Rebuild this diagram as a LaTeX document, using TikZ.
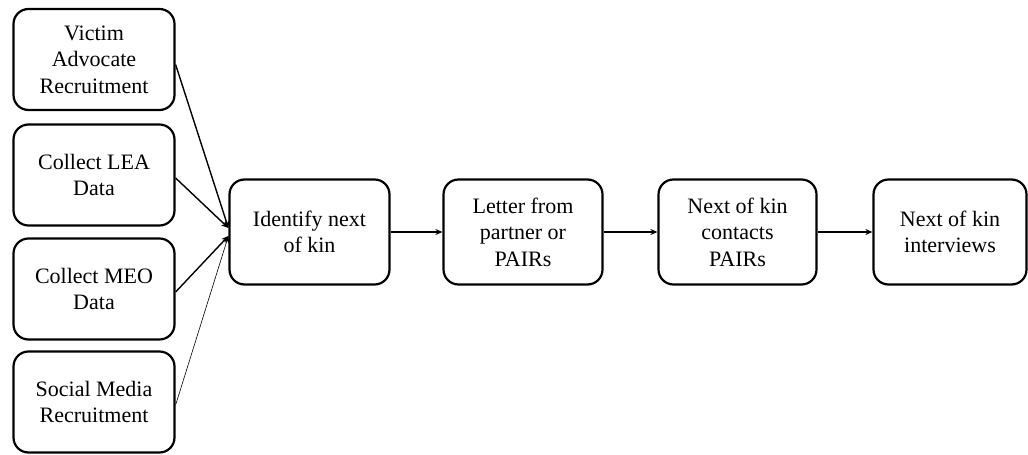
\documentclass[tikz,border=0pt]{standalone}
\usepackage{fontspec}
\setmainfont{Liberation Serif}
\usetikzlibrary{arrows.meta}
\begin{document}
\begin{tikzpicture}[x=1pt,y=1pt,
  stepbox/.style={draw, line width=2.2pt, rounded corners=15pt, align=center,
    font=\fontsize{22}{26.5}\selectfont, inner sep=2pt},
  src/.style={stepbox, minimum width=161pt, minimum height=101pt},
  flow/.style={stepbox, minimum height=105pt},
  link/.style={line width=1.4pt, -{Stealth[length=7pt,width=6pt]}},
  thinlink/.style={line width=0.6pt, -{Stealth[length=7pt,width=6pt]}}]
\useasboundingbox (0,0) rectangle (1028,455);

% sources on the left
\node[src] (va)  at (94,395.5) {Victim\\Advocate\\Recruitment};
\node[src] (lea) at (94,280)   {Collect LEA\\Data};
\node[src] (meo) at (94,166)   {Collect MEO\\Data};
\node[src] (sm)  at (94,53)    {Social Media\\Recruitment};

% main sequence
\node[flow, minimum width=160pt] (id)  at (309.5,223) {Identify next\\of kin};
\node[flow, minimum width=159pt] (let) at (523,223)   {Letter from\\partner or\\PAIRs};
\node[flow, minimum width=158pt] (con) at (737.5,223) {Next of kin\\contacts\\PAIRs};
\node[flow, minimum width=153pt] (int) at (950,223)   {Next of kin\\interviews};

% converging inputs
\coordinate (inA) at ([yshift=4pt]id.west);
\coordinate (inB) at ([yshift=-4pt]id.west);
\draw[link] ([yshift=-5pt]va.east) -- (inA);
\draw[link] ([yshift=-3pt]lea.east) -- (inA);
\draw[link] ([yshift=-3pt]meo.east) -- (inB);
\draw[thinlink] ([yshift=-3pt]sm.east) -- (inB);

% sequence arrows
\draw[link] (id.east) -- (let.west);
\draw[link] (let.east) -- (con.west);
\draw[link] (con.east) -- (int.west);
\end{tikzpicture}
\end{document}
